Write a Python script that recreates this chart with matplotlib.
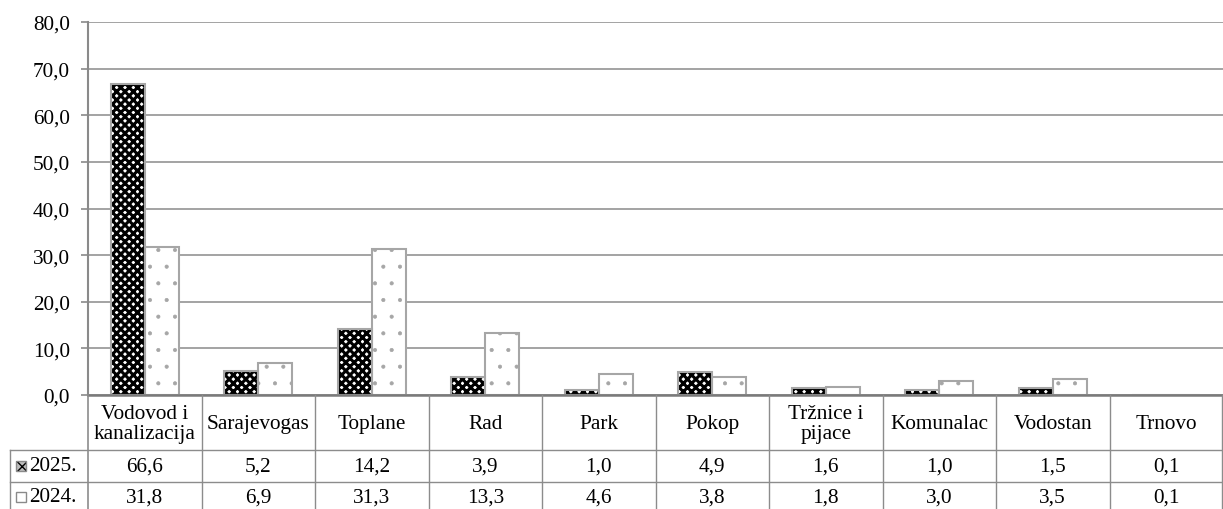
import matplotlib
matplotlib.use("Agg")
import matplotlib.pyplot as plt
from matplotlib.lines import Line2D
from matplotlib.patches import Rectangle

plt.rcParams['font.family'] = ['Liberation Serif', 'DejaVu Serif']

categories = ["Vodovod i\nkanalizacija", "Sarajevogas", "Toplane", "Rad", "Park",
              "Pokop", "Tržnice i\npijace", "Komunalac", "Vodostan", "Trnovo"]
series_names = ["2025.", "2024."]
values_2025 = [66.6, 5.2, 14.2, 3.9, 1.0, 4.9, 1.6, 1.0, 1.5, 0.1]
values_2024 = [31.8, 6.9, 31.3, 13.3, 4.6, 3.8, 1.8, 3.0, 3.5, 0.1]
yticks = [0, 10, 20, 30, 40, 50, 60, 70, 80]

W, H = 1223, 510
fig = plt.figure(figsize=(W / 100, H / 100), dpi=100)

def fx(x):
    return x / W

def fy(y):
    return 1 - y / H

ax_left, ax_right, ax_top, ax_bottom = 88, 1223, 23, 396
ax = fig.add_axes([fx(ax_left), fy(ax_bottom), fx(ax_right - ax_left), (ax_bottom - ax_top) / H])

n = len(categories)
xs = list(range(n))
bw = 0.30
edge = '#a6a6a6'
FS = 15.3

# 2025 bars: dense black pattern + gray edge
b1 = ax.bar([x - bw / 2 for x in xs], values_2025, bw, facecolor='white', edgecolor='black',
            linewidth=0, hatch='xxxx', zorder=3)
ax.bar([x - bw / 2 for x in xs], values_2025, bw, fill=False, edgecolor=edge,
       linewidth=1.5, zorder=4)
# 2024 bars: white with sparse dots
b2 = ax.bar([x + bw / 2 for x in xs], values_2024, bw, facecolor='white', edgecolor=edge,
            linewidth=1.5, hatch='.', zorder=3)
for p in b1:
    if hasattr(p, 'set_hatch_linewidth'):
        p.set_hatch_linewidth(2.2)
for p in b2:
    if hasattr(p, 'set_hatch_linewidth'):
        p.set_hatch_linewidth(0.5)

ax.set_xlim(-0.5, n - 0.5)
ax.set_ylim(0, 80)
ax.set_yticks(yticks)
ax.set_yticklabels([f"{v:.1f}".replace('.', ',') for v in yticks], fontsize=FS)
ax.set_xticks([])
ax.yaxis.grid(True, color='#9c9c9c', linewidth=1.3, zorder=0)
ax.set_axisbelow(True)
for s in ['top', 'right', 'bottom']:
    ax.spines[s].set_visible(False)
ax.spines['left'].set_color('#8a8a8a')
ax.spines['left'].set_linewidth(1.5)
ax.tick_params(axis='y', length=5, width=1.2, color='#8a8a8a', pad=8)
ax.axhline(0, color='#7a7a7a', linewidth=1.8, zorder=5, clip_on=False)

# Data table drawn below the axes
tcol = '#8c8c8c'
def hline(y, x0, x1, lw=1.0):
    fig.add_artist(Line2D([fx(x0), fx(x1)], [fy(y), fy(y)], color=tcol, linewidth=lw))

def vline(x, y0, y1, lw=1.0):
    fig.add_artist(Line2D([fx(x), fx(x)], [fy(y0), fy(y1)], color=tcol, linewidth=lw))

cw = (ax_right - ax_left) / n
r_head_top, r1_top, r2_top, r_bot = 396, 451, 483, 515
tab_left = 10
vline(ax_left, r_head_top, H + 5, lw=1.2)
for k in range(1, n):
    vline(ax_left + k * cw, r_head_top, H + 5)
vline(ax_right - 1.5, r_head_top, H + 5)
vline(tab_left, r1_top, H + 5)
hline(r1_top, tab_left, ax_right)
hline(r2_top, tab_left, ax_right)

for i, c in enumerate(categories):
    cx = ax_left + (i + 0.5) * cw
    fig.text(fx(cx), fy((r_head_top + r1_top) / 2 + 1), c, ha='center', va='center',
             fontsize=FS, linespacing=1.12)
    fig.text(fx(cx), fy((r1_top + r2_top) / 2), f"{values_2025[i]:.1f}".replace('.', ','),
             ha='center', va='center', fontsize=FS)
    fig.text(fx(cx), fy((r2_top + r_bot) / 2 - 1), f"{values_2024[i]:.1f}".replace('.', ','),
             ha='center', va='center', fontsize=FS)

# Legend keys in the first column
ky1 = (r1_top + r2_top) / 2
ky2 = (r2_top + r_bot) / 2 - 1
ks = 10
kx = 16
fig.add_artist(Rectangle((fx(kx), fy(ky1 + ks / 2)), ks / W, ks / H, facecolor='#bdbdbd',
                         edgecolor='black', linewidth=0, hatch='xxx', transform=fig.transFigure))
fig.add_artist(Rectangle((fx(kx), fy(ky1 + ks / 2)), ks / W, ks / H, fill=False,
                         edgecolor='#8a8a8a', linewidth=1.0, transform=fig.transFigure))
fig.add_artist(Rectangle((fx(kx), fy(ky2 + ks / 2)), ks / W, ks / H, facecolor='white',
                         edgecolor='#8a8a8a', linewidth=1.0, transform=fig.transFigure))
fig.text(fx(29), fy(ky1), series_names[0], ha='left', va='center', fontsize=FS)
fig.text(fx(29), fy(ky2), series_names[1], ha='left', va='center', fontsize=FS)

fig.savefig("out.png", dpi=100)
